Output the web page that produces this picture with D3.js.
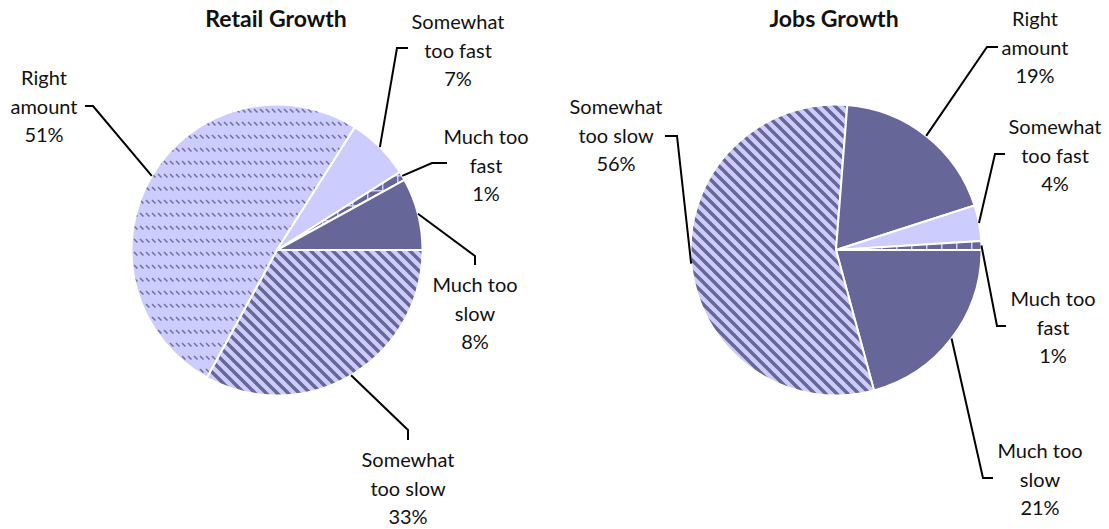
<!DOCTYPE html>
<html>
<head>
<meta charset="utf-8">
<script src="https://cdn.jsdelivr.net/npm/d3@7"></script>
<style>
  html, body { margin: 0; padding: 0; background: #ffffff; }
  svg { display: block; }
  text { font-family: Lato, "Open Sans", sans-serif; fill: #111; }
</style>
</head>
<body>
<svg id="chart" width="1109" height="529"></svg>
<script>
// ---------------- DATA ----------------
const titles = ["Retail Growth", "Jobs Growth"];
const retailCategories = ["Somewhat too slow", "Right amount", "Somewhat too fast", "Much too fast", "Much too slow"];
const retailValues = [33, 51, 7, 1, 8];
const jobsCategories = ["Much too slow", "Somewhat too slow", "Right amount", "Somewhat too fast", "Much too fast"];
const jobsValues = [21, 56, 19, 4, 1];
const labelLines = {
  "Right amount": ["Right", "amount"],
  "Somewhat too fast": ["Somewhat", "too fast"],
  "Somewhat too slow": ["Somewhat", "too slow"],
  "Much too fast": ["Much too", "fast"],
  "Much too slow": ["Much too", "slow"]
};

// ---------------- LAYOUT / STYLE ----------------
const R = 145.5;
const DARK = "#666699", LIGHT = "#CCCCFF";
const LINE_GAP = 28.5;

const charts = [
  {
    title: titles[0], cats: retailCategories, vals: retailValues, cx: 277, cy: 250, titleX: 276,
    fills: ["url(#stripes)", "url(#dashes)", LIGHT, "url(#grid)", DARK],
    labels: {
      "Right amount":      { x: 44,  y: 77,  path: [[85,106],[93,106]] },
      "Somewhat too fast": { x: 458, y: 21,  path: [[408,48],[397,48]] },
      "Much too fast":     { x: 486, y: 136, path: [[447,163],[432,163]] },
      "Much too slow":     { x: 475, y: 284, path: [[475,265],[475,256]] },
      "Somewhat too slow": { x: 408, y: 459, path: [[408,440],[408,430]] }
    }
  },
  {
    title: titles[1], cats: jobsCategories, vals: jobsValues, cx: 836, cy: 250, titleX: 834,
    fills: [DARK, "url(#stripes)", DARK, LIGHT, "url(#grid)"],
    labels: {
      "Right amount":      { x: 1035, y: 18,  path: [[998,47],[987,47]] },
      "Somewhat too fast": { x: 1055, y: 126, path: [[1005,154],[995,154]] },
      "Much too fast":     { x: 1053, y: 298, path: [[1006,326],[997,326]] },
      "Much too slow":     { x: 1040, y: 450, path: [[993,478],[983,478]] },
      "Somewhat too slow": { x: 616,  y: 106, path: [[665,136],[677,136]] }
    }
  }
];

const svg = d3.select("#chart");
const defs = svg.append("defs");

// Diagonal stripes (downward)
const SP = 11;
const ps = defs.append("pattern").attr("id", "stripes")
  .attr("patternUnits", "userSpaceOnUse").attr("width", SP).attr("height", SP);
ps.append("rect").attr("width", SP).attr("height", SP).attr("fill", LIGHT);
ps.append("path").attr("d", `M-3,-3L${SP+3},${SP+3}M-3,${SP-3}L3,${SP+3}M${SP-3},-3L${SP+3},3`)
  .attr("stroke", DARK).attr("stroke-width", 3.4);

// Dashed downward diagonal
const pd = defs.append("pattern").attr("id", "dashes")
  .attr("patternUnits", "userSpaceOnUse").attr("width", 6).attr("height", 13);
pd.append("rect").attr("width", 6).attr("height", 13).attr("fill", LIGHT);
pd.append("path").attr("d", "M1,2L4.5,5.5")
  .attr("stroke", "#6e6ea3").attr("stroke-width", 1.5);

// Grid
const pg = defs.append("pattern").attr("id", "grid")
  .attr("patternUnits", "userSpaceOnUse").attr("width", 15).attr("height", 15);
pg.append("rect").attr("width", 15).attr("height", 15).attr("fill", DARK);
pg.append("path").attr("d", "M0,0.75H15M0.75,0V15")
  .attr("stroke", LIGHT).attr("stroke-width", 1.5);

const pie = d3.pie().sort(null).value(d => d.v)
  .startAngle(Math.PI / 2).endAngle(Math.PI / 2 + 2 * Math.PI);
const arc = d3.arc().innerRadius(0).outerRadius(R);
const edge = d3.arc().innerRadius(R).outerRadius(R);

charts.forEach(ch => {
  const data = ch.cats.map((c, i) => ({ c, v: ch.vals[i], f: ch.fills[i] }));
  const arcs = pie(data);
  const g = svg.append("g").attr("transform", `translate(${ch.cx},${ch.cy})`);

  g.selectAll("path.slice").data(arcs).join("path")
    .attr("class", "slice")
    .attr("d", arc)
    .attr("fill", d => d.data.f)
    .attr("stroke", "#ffffff")
    .attr("stroke-width", 2)
    .attr("stroke-linejoin", "round");

  svg.append("text")
    .attr("x", ch.titleX).attr("y", 18)
    .attr("text-anchor", "middle").attr("dominant-baseline", "central")
    .attr("font-weight", "bold").attr("font-size", 23)
    .text(ch.title);

  arcs.forEach(a => {
    const L = ch.labels[a.data.c];
    const c = edge.centroid(a);
    const pts = L.path.concat([[c[0] + ch.cx, c[1] + ch.cy]]);
    svg.append("path")
      .attr("d", d3.line()(pts))
      .attr("fill", "none").attr("stroke", "#000").attr("stroke-width", 2);
    const lines = labelLines[a.data.c].concat([a.data.v + "%"]);
    const t = svg.append("text").attr("text-anchor", "middle").attr("font-size", 20);
    lines.forEach((s, i) => {
      t.append("tspan").attr("x", L.x).attr("y", L.y + i * LINE_GAP)
        .attr("dominant-baseline", "central").text(s);
    });
  });
});
</script>
</body>
</html>
